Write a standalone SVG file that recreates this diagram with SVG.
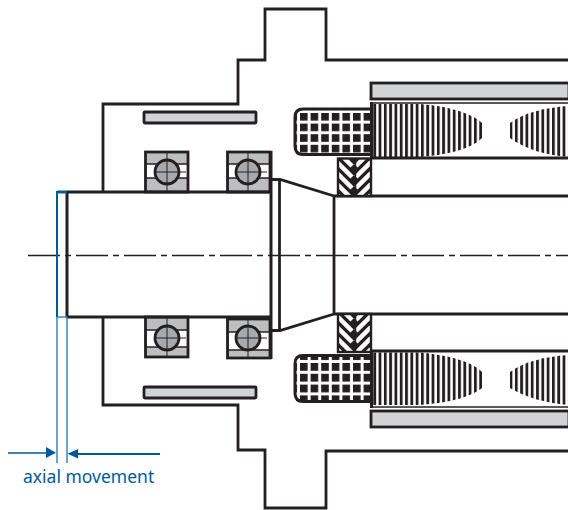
<svg xmlns="http://www.w3.org/2000/svg" width="568" height="510" viewBox="0 0 568 510">
<defs>
<style>
.l{fill:none;stroke:#231f20;stroke-width:2.800}
.t{fill:none;stroke:#231f20;stroke-width:1.500}
.p{fill:#d1d3d4;stroke:#231f20;stroke-width:2.800}
.g{fill:#bcbec0}
.b{fill:none;stroke:#00599d;stroke-width:2}
.bl{fill:none;stroke:#3d87bd;stroke-width:1.500}
.h{fill:#231f20}
.ball{fill:#a7a9ac;stroke:#231f20;stroke-width:2.800}
.thin{fill:none;stroke:#231f20;stroke-width:1}
</style>
<pattern id="gridT" x="300" y="113" width="10.6" height="10.6" patternUnits="userSpaceOnUse"><rect width="7.6" height="7.6" fill="#231f20"/></pattern>
<pattern id="gridB" x="300" y="363" width="10.6" height="10.8" patternUnits="userSpaceOnUse"><rect width="7.6" height="7.8" fill="#231f20"/></pattern>
<pattern id="vertL" x="373.300" y="0" width="5.3" height="10" patternUnits="userSpaceOnUse"><rect width="2.8" height="10" fill="#231f20"/></pattern>
<pattern id="vertR" x="509.600" y="0" width="5.3" height="10" patternUnits="userSpaceOnUse"><rect width="2.8" height="10" fill="#231f20"/></pattern>
<pattern id="chev" x="337" y="158" width="34" height="11" patternUnits="userSpaceOnUse">
<rect width="34" height="11" fill="#231f20"/>
<path d="M0 -18L15 -3M0 -7L15 8M0 4L15 19M34 -18L19 -3M34 -7L19 8M34 4L19 19" stroke="#fff" stroke-width="4.500" fill="none"/>
</pattern>
</defs>
<rect width="568" height="510" fill="#fff"/>
<g id="housing">
<path class="l" d="M103 192V104H238V60H265V9H326V60H568"/>
<path class="l" d="M103 318V405H238V450H265V508H326V451H568"/>
</g>
<g id="sleeve-top"><rect class="p" x="144" y="112" width="112" height="11" rx="1"/></g>
<g id="sleeve-bottom"><rect class="p" x="144" y="387" width="112" height="11" rx="1"/></g>
<g id="bearing-1">
<rect x="145.500" y="152" width="42.500" height="40" class="g"/>
<rect x="147" y="164" width="40" height="14" fill="#fff"/>
<rect x="145.500" y="152" width="42.500" height="40" class="l"/>
<path class="t" d="M146 164H187M146 178H187"/>
<circle class="ball" cx="167" cy="172" r="12"/>
<path class="thin" d="M167 151V193M155 172H186"/>
</g>
<g id="bearing-2">
<rect x="227.500" y="152" width="42.500" height="40" class="g"/>
<rect x="229" y="164" width="40" height="14" fill="#fff"/>
<rect x="227.500" y="152" width="42.500" height="40" class="l"/>
<path class="t" d="M228 164H269M228 178H269"/>
<circle class="ball" cx="248" cy="172" r="12"/>
<path class="thin" d="M248 151V193M236 172H267"/>
</g>
<g id="bearing-3">
<rect x="145.500" y="317" width="42.500" height="40" class="g"/>
<rect x="147" y="330" width="40" height="17" fill="#fff"/>
<rect x="145.500" y="317" width="42.500" height="40" class="l"/>
<path class="t" d="M146 330H187M146 347H187"/>
<circle class="ball" cx="167" cy="338" r="12"/>
<path class="thin" d="M167 316V358M155 338H186"/>
</g>
<g id="bearing-4">
<rect x="227.500" y="319" width="42.500" height="39" class="g"/>
<rect x="229" y="332" width="40" height="18" fill="#fff"/>
<rect x="227.500" y="319" width="42.500" height="39" class="l"/>
<path class="t" d="M228 332H269M228 350H269"/>
<circle class="ball" cx="248" cy="338" r="12"/>
<path class="thin" d="M248 318V359M236 338H267"/>
</g>
<g id="shaft">
<path class="l" d="M67 192H271M67 317H271M271 179.500H280L334 196V314L280 330.500H271M279.500 180V330M334 196H568M334 314H568"/>
<path class="l" d="M67 191V318" style="stroke-width:3"/>
<path class="l" d="M271 151V359" style="stroke-width:3"/>
</g>
<g id="stator-top">
<rect class="p" x="371" y="83" width="198" height="16"/>
<path class="l" d="M371 103H568" style="stroke-width:1.500"/>
<path class="l" d="M371 158H568" style="stroke-width:3"/>
<path fill="#fff" d="M371 109H303Q295 109 295 117V146Q295 154.500 303 154.500H371Z"/>
<path fill="url(#gridT)" stroke="#231f20" stroke-width="3" d="M371 109H303Q295 109 295 117V146Q295 154.500 303 154.500H371"/>
<path d="M373 104H420C445 106 470 112 482 123V138C470 150 445 155 420 157H373Z" fill="url(#vertL)"/>
<path d="M568 106C545 108 525 112 510 123V138C525 149 545 155 568 157Z" fill="url(#vertR)"/>
<rect x="370" y="102" width="3" height="57" class="h"/>
</g>
<g id="stator-bottom">
<rect class="p" x="371" y="411" width="198" height="16"/>
<path class="l" d="M371 351H568" style="stroke-width:3"/>
<path class="l" d="M371 407H568" style="stroke-width:1.500"/>
<path fill="#fff" d="M371 355.500H303Q295 355.500 295 363.500V393Q295 401.500 303 401.500H371Z"/>
<path fill="url(#gridB)" stroke="#231f20" stroke-width="3" d="M371 355.500H303Q295 355.500 295 363.500V393Q295 401.500 303 401.500H371"/>
<path d="M373 352.500H420C445 355 470 360 482 372V388C470 398 445 403 420 405H373Z" fill="url(#vertL)"/>
<path d="M568 355C545 357 525 361 510 372V388C525 397 545 403 568 405Z" fill="url(#vertR)"/>
<rect x="370" y="350" width="3" height="58" class="h"/>
</g>
<g id="seal-top"><rect x="338" y="158.500" width="33" height="37.500" fill="url(#chev)" stroke="#231f20" stroke-width="2.400"/><path class="l" d="M355.500 158V196" style="stroke-width:1.500"/></g>
<g id="seal-bottom"><rect x="338" y="314" width="33" height="38" fill="url(#chev)" stroke="#231f20" stroke-width="2.400"/><path class="l" d="M355.500 314V352" style="stroke-width:1.500"/></g>
<g id="connectors">
<path d="M28 255.500H568" fill="none" stroke="#231f20" stroke-width="1.300" stroke-dasharray="32 5 6 5"/>
<path class="b" d="M57 317.500V192H67"/>
<path d="M57 192H67" class="b" style="stroke-width:3"/>
<path class="bl" d="M57 317H67M57 317V463M67 317V463"/>
<path class="b" d="M8 453H46" style="stroke-width:1.300"/>
<path class="b" d="M78 454H160"/>
<path d="M56 452.800L46 447V458Z M67.500 453.700L78 449V458.500Z" fill="#00599d"/>
</g>
<g id="label"><text x="23" y="483" font-family="'Noto Sans', 'Open Sans', sans-serif" font-size="17.500" fill="#00599d">axial movement</text></g>
</svg>
